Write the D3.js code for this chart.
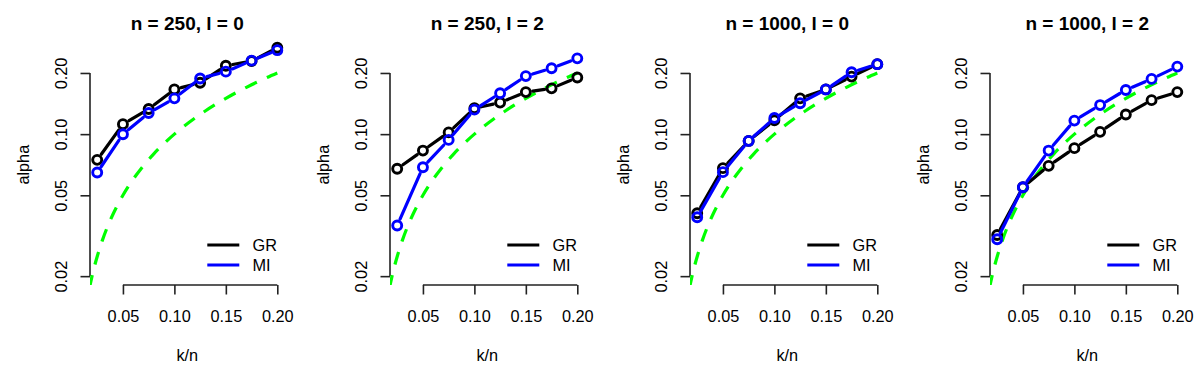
<!DOCTYPE html>
<html>
<head>
<meta charset="utf-8">
<script src="https://cdn.jsdelivr.net/npm/d3@7"></script>
<style>
    body { margin: 0; background: #fff; }
    svg { display: block; font-family: "Liberation Sans", Arial, sans-serif; }
</style>
</head>
<body>
<div id="chart"></div>
<script>
'use strict';

// k/n positions shared by every panel
const kn = [0.025, 0.05, 0.075, 0.1, 0.125, 0.15, 0.175, 0.2];

const titles = ['n = 250, l = 0', 'n = 250, l = 2', 'n = 1000, l = 0', 'n = 1000, l = 2'];

const gr250l0 = [0.0747, 0.112, 0.133, 0.166, 0.179, 0.217, 0.229, 0.266];
const mi250l0 = [0.0647, 0.0998, 0.127, 0.150, 0.188, 0.203, 0.230, 0.259];
const gr250l2 = [0.0675, 0.083, 0.102, 0.134, 0.143, 0.161, 0.168, 0.190];
const mi250l2 = [0.0355, 0.0687, 0.0937, 0.132, 0.159, 0.193, 0.211, 0.236];
const gr1000l0 = [0.0408, 0.068, 0.0926, 0.117, 0.150, 0.166, 0.192, 0.221];
const mi1000l0 = [0.039, 0.065, 0.0926, 0.120, 0.142, 0.166, 0.2015, 0.221];
const gr1000l2 = [0.0319, 0.0548, 0.0698, 0.0853, 0.1026, 0.125, 0.147, 0.161];
const mi1000l2 = [0.0304, 0.0548, 0.083, 0.1166, 0.139, 0.165, 0.187, 0.215];

// nominal level line (dashed green)
const refKn = [0.0175, 0.02, 0.0225, 0.025, 0.03, 0.035, 0.04, 0.05, 0.06, 0.07, 0.08,
    0.09, 0.1, 0.11, 0.12, 0.13, 0.14, 0.15, 0.16, 0.17, 0.18, 0.19, 0.2];
const refAlpha = [0.0175, 0.02, 0.0225, 0.025, 0.03, 0.035, 0.04, 0.05, 0.06, 0.07, 0.08,
    0.09, 0.1, 0.11, 0.12, 0.13, 0.14, 0.15, 0.16, 0.17, 0.18, 0.19, 0.2];

const xTicks = [0.05, 0.1, 0.15, 0.2];
const yTicks = [0.02, 0.05, 0.1, 0.2];
const xDomain = [0.018, 0.207];
const yDomain = [0.01809, 0.2765];

const legendLabels = ['GR', 'MI'];
const seriesColors = ['#000000', '#0000ff'];

const panels = [
    [gr250l0, mi250l0],
    [gr250l2, mi250l2],
    [gr1000l0, mi1000l0],
    [gr1000l2, mi1000l2]
];

var width = 1200;
var height = 375;
var panelWidth = 300;
var plotLeft = 90;
var plotRight = 284.5;
var plotTop = 44.4;
var plotBottom = 285;

var svg = d3.select('#chart').append('svg')
    .attr('width', width)
    .attr('height', height);


// draw a type="b" line: segments with gaps round the points
function drawSegments(g, pts, color) {
    var gap = 7;
    for (var i = 0; i < pts.length - 1; ++i) {
        var a = pts[i], b = pts[i + 1];
        var dx = b[0] - a[0], dy = b[1] - a[1];
        var len = Math.sqrt(dx * dx + dy * dy);
        if (len <= 2 * gap) continue;
        var ux = dx / len, uy = dy / len;
        g.append('line')
            .attr('x1', a[0] + ux * gap).attr('y1', a[1] + uy * gap)
            .attr('x2', b[0] - ux * gap).attr('y2', b[1] - uy * gap)
            .attr('stroke', color)
            .attr('stroke-width', 3.2)
            .attr('stroke-linecap', 'round');
    }
}


function drawPanel(p) {
    var ox = p * panelWidth;
    var g = svg.append('g').attr('transform', 'translate(' + ox + ',0)');

    var x = d3.scaleLinear().domain(xDomain).range([plotLeft, plotRight]);
    var y = d3.scaleLog().domain(yDomain).range([plotBottom, plotTop]);

    g.append('clipPath').attr('id', 'clip' + p)
        .append('rect')
        .attr('x', plotLeft).attr('y', plotTop)
        .attr('width', plotRight - plotLeft).attr('height', plotBottom - plotTop);

    // x axis
    var xa = g.append('g')
        .attr('transform', 'translate(0,' + plotBottom + ')')
        .call(d3.axisBottom(x).tickValues(xTicks).tickFormat(d3.format('.2f')).tickSize(9.5));
    xa.select('.domain').remove();
    xa.append('line')
        .attr('x1', x(xTicks[0])).attr('x2', x(xTicks[xTicks.length - 1]))
        .attr('stroke', '#000');
    xa.selectAll('line').attr('stroke', '#222').attr('stroke-width', 1.6);
    xa.selectAll('text')
        .attr('y', 36.5).attr('dy', null)
        .attr('fill', '#000')
        .style('font-size', '16.3px');

    // y axis
    var ya = g.append('g')
        .attr('transform', 'translate(' + plotLeft + ',0)')
        .call(d3.axisLeft(y).tickValues(yTicks).tickFormat(d3.format('.2f')).tickSize(9.5));
    ya.select('.domain').remove();
    ya.append('line')
        .attr('y1', y(yTicks[0])).attr('y2', y(yTicks[yTicks.length - 1]))
        .attr('stroke', '#000');
    ya.selectAll('line').attr('stroke', '#222').attr('stroke-width', 1.6);
    ya.selectAll('.tick text')
        .attr('x', null).attr('dy', null)
        .attr('text-anchor', 'middle')
        .attr('transform', 'translate(-23.5,0) rotate(-90)')
        .attr('fill', '#000')
        .style('font-size', '16.3px');

    // labels
    g.append('text')
        .attr('x', (plotLeft + plotRight) / 2).attr('y', 29.5)
        .attr('text-anchor', 'middle')
        .style('font-size', '19px').style('font-weight', 'bold')
        .text(titles[p]);
    g.append('text')
        .attr('x', (plotLeft + plotRight) / 2).attr('y', 360.5)
        .attr('text-anchor', 'middle')
        .style('font-size', '16.3px')
        .text('k/n');
    g.append('text')
        .attr('transform', 'translate(29,' + ((plotTop + plotBottom) / 2) + ') rotate(-90)')
        .attr('text-anchor', 'middle')
        .style('font-size', '16.3px')
        .text('alpha');

    // reference line
    var refPts = refKn.map(function(k, i) { return [k, refAlpha[i]]; });
    g.append('path')
        .datum(refPts)
        .attr('clip-path', 'url(#clip' + p + ')')
        .attr('d', d3.line().x(function(d) { return x(d[0]); })
            .y(function(d) { return y(d[1]); }).curve(d3.curveMonotoneX))
        .attr('fill', 'none')
        .attr('stroke', '#00ff00')
        .attr('stroke-width', 3.2)
        .attr('stroke-dasharray', '13,11');

    // series
    panels[p].forEach(function(vals, s) {
        var pts = kn.map(function(k, i) { return [x(k), y(vals[i])]; });
        drawSegments(g, pts, seriesColors[s]);
        g.selectAll('circle.s' + s)
            .data(pts)
            .enter().append('circle')
            .attr('class', 's' + s)
            .attr('cx', function(d) { return d[0]; })
            .attr('cy', function(d) { return d[1]; })
            .attr('r', 4.5)
            .attr('fill', 'none')
            .attr('stroke', seriesColors[s])
            .attr('stroke-width', 2.9);
    });

    // legend
    legendLabels.forEach(function(lab, s) {
        var ly = 245 + s * 20;
        g.append('line')
            .attr('x1', 207.3).attr('x2', 239.3)
            .attr('y1', ly).attr('y2', ly)
            .attr('stroke', seriesColors[s])
            .attr('stroke-width', 3.2);
        g.append('text')
            .attr('x', 252.5).attr('y', ly + 6)
            .style('font-size', '16.3px')
            .text(lab);
    });
}


for (var p = 0; p < panels.length; ++p) {
    drawPanel(p);
}
</script>
</body>
</html>
